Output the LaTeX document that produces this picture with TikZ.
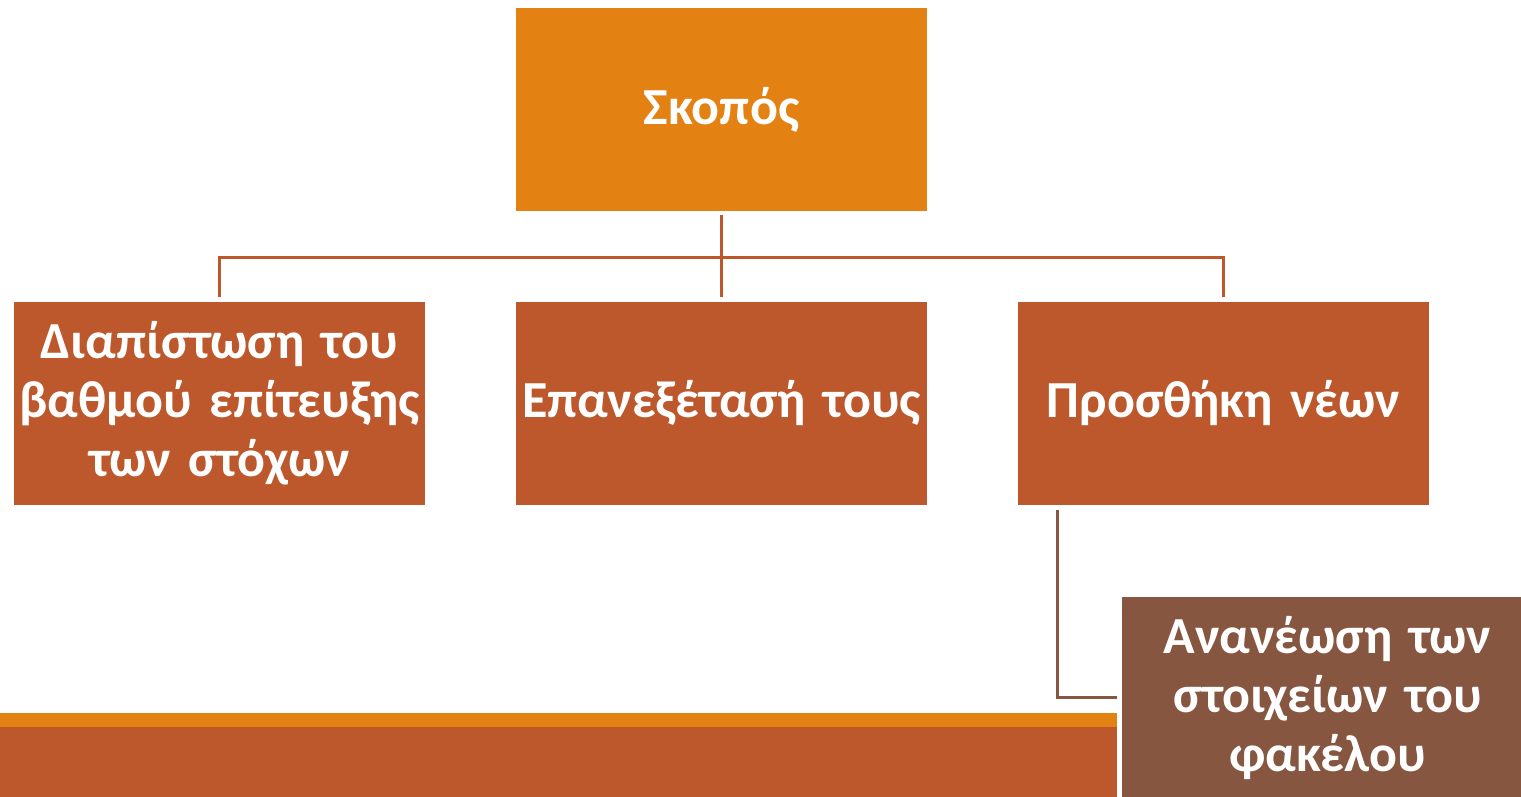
\documentclass[tikz,border=0pt]{standalone}
\usepackage{fontspec}
\setmainfont{Carlito}
\definecolor{orng}{RGB}{227,130,18}
\definecolor{rust}{RGB}{188,88,44}
\definecolor{umber}{RGB}{135,86,64}
\begin{document}
\begin{tikzpicture}[x=1pt,y=-1pt,
  box/.style={draw=none,minimum width=411pt,minimum height=203pt,inner sep=0pt,
    text width=411pt,align=center,text=white,font=\bfseries\fontsize{52}{59}\selectfont},
  conn/.style={draw=rust,line width=3pt},
  conn2/.style={draw=umber,line width=3pt}]
\useasboundingbox (0,0) rectangle (1521,797);
\clip (0,0) rectangle (1521,797);
% bottom bar
\fill[orng] (0,713) rectangle (1117,727);
\fill[rust] (0,727) rectangle (1117,797);
\node[box,fill=orng] (top) at (721.5,109.5) {Σκοπός};
\node[box,fill=rust] (b1) at (219.5,403.5) {Διαπίστωση του\\βαθμού επίτευξης\\των στόχων};
\node[box,fill=rust] (b2) at (721.5,403.5) {Επανεξέτασή τους};
\node[box,fill=rust] (b3) at (1223.5,403.5) {Προσθήκη νέων};
\node[box,fill=umber] (b4) at (1327.5,698.5) {Ανανέωση των\\στοιχείων του\\φακέλου};
\coordinate (hub) at (721.5,257);
\coordinate (lx) at (1057,0);
\coordinate (ly) at (0,697);
\draw[conn,shorten <=4pt] (top.south) -- (hub);
\draw[conn,shorten >=5pt] (hub) -| (b1.north);
\draw[conn,shorten >=5pt] (hub) -- (b2.north);
\draw[conn,shorten >=5pt] (hub) -| (b3.north);
\draw[conn2,shorten <=5pt,shorten >=5pt] (b3.south -| lx) |- (b4.west |- ly);
\end{tikzpicture}
\end{document}
